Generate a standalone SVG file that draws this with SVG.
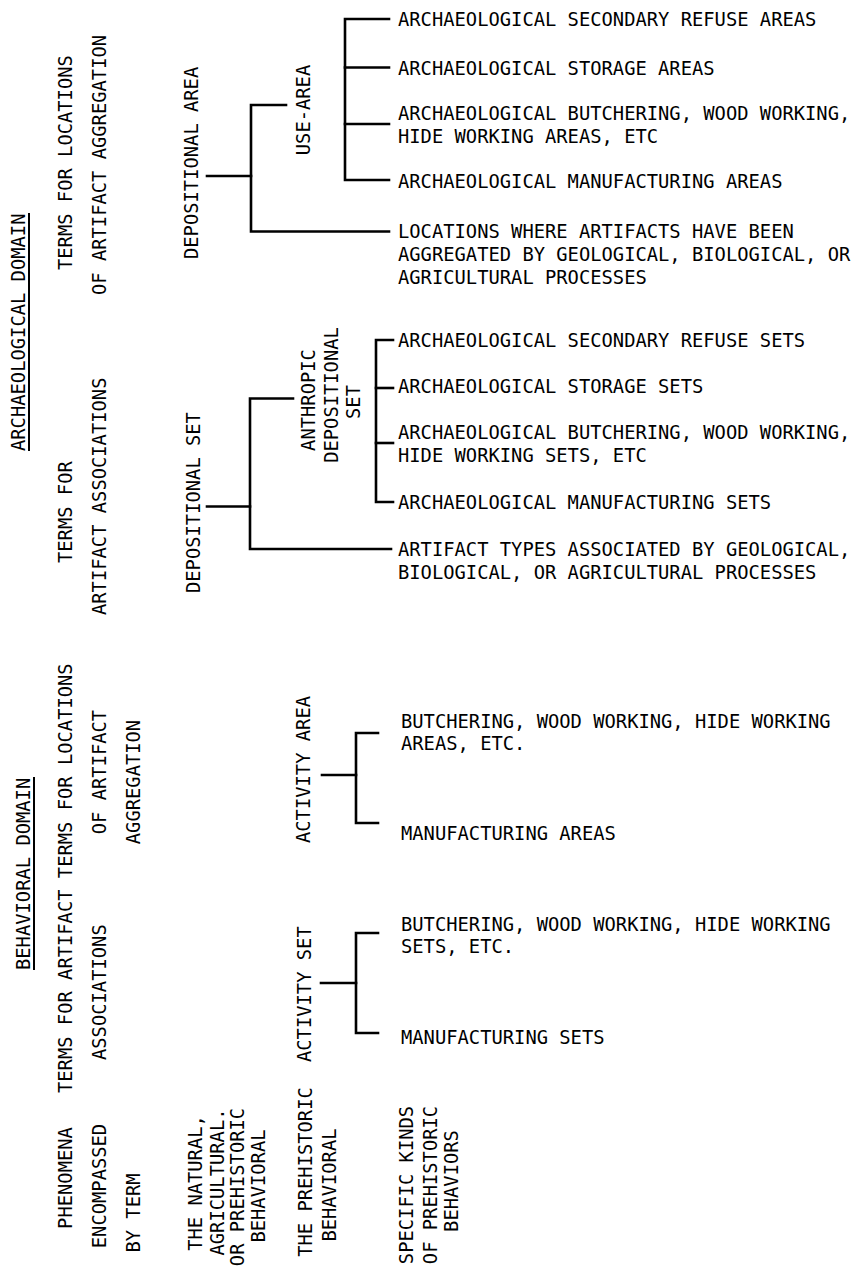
<svg xmlns="http://www.w3.org/2000/svg" width="855" height="1270" viewBox="0 0 855 1270">
<style>
text{font-family:"DejaVu Sans Mono","Liberation Mono",monospace;font-size:18.8px;fill:#000}
.m{text-anchor:middle}
.ln{stroke:#000;stroke-width:2.6;fill:none;stroke-linecap:square;stroke-linejoin:miter}
.ul{stroke:#000;stroke-width:2;fill:none}
</style>
<rect width="855" height="1270" fill="#fff"/>

<g id="connectors">
  <path class="ln" d="M207,176 H251"/>
  <path class="ln" d="M286,105 H251 V231.5 H389"/>
  <path class="ln" d="M389,19 H345 V180 H389"/>
  <path class="ln" d="M345,67.5 H389"/>
  <path class="ln" d="M345,124 H389"/>
  <path class="ln" d="M207,506.5 H250"/>
  <path class="ln" d="M293,398.5 H250 V549 H391"/>
  <path class="ln" d="M393,340 H376 V502 H393"/>
  <path class="ln" d="M376,388 H393"/>
  <path class="ln" d="M376,443 H393"/>
  <path class="ln" d="M322,775 H356"/>
  <path class="ln" d="M378,733 H356 V823 H378"/>
  <path class="ln" d="M321,983 H356"/>
  <path class="ln" d="M378,933 H356 V1033 H378"/>
</g>

<g id="arch-domain">
  <text transform="rotate(-90 25 451)" x="25" y="451">ARCHAEOLOGICAL DOMAIN</text>
  <line class="ul" x1="29" y1="213" x2="29" y2="451"/>
</g>
<g id="arch-terms-locations">
  <text transform="rotate(-90 72 270)" x="72" y="270">TERMS FOR LOCATIONS</text>
  <text transform="rotate(-90 106 295)" x="106" y="295">OF ARTIFACT AGGREGATION</text>
</g>
<g id="arch-terms-associations">
  <text transform="rotate(-90 72 563)" x="72" y="563">TERMS FOR</text>
  <text transform="rotate(-90 106 615)" x="106" y="615">ARTIFACT ASSOCIATIONS</text>
</g>

<g id="beh-domain">
  <text transform="rotate(-90 30 970)" x="30" y="970">BEHAVIORAL DOMAIN</text>
  <line class="ul" x1="34" y1="777" x2="34" y2="970"/>
</g>
<g id="beh-terms">
  <text transform="rotate(-90 72 1093)" x="72" y="1093">TERMS FOR ARTIFACT TERMS FOR LOCATIONS</text>
  <text transform="rotate(-90 106 1060)" x="106" y="1060">ASSOCIATIONS</text>
  <text class="m" transform="rotate(-90 106 772)" x="106" y="772">OF ARTIFACT</text>
  <text class="m" transform="rotate(-90 140 782)" x="140" y="782">AGGREGATION</text>
</g>

<g id="phenomena">
  <text class="m" transform="rotate(-90 72 1178)" x="72" y="1178">PHENOMENA</text>
  <text class="m" transform="rotate(-90 106 1186)" x="106" y="1186">ENCOMPASSED</text>
  <text class="m" transform="rotate(-90 140 1213)" x="140" y="1213">BY TERM</text>
</g>
<g id="natural-phenomena">
  <text class="m" transform="rotate(-90 202 1183)" x="202" y="1183">THE NATURAL,</text>
  <text class="m" transform="rotate(-90 224 1182)" x="224" y="1182">AGRICULTURAL.</text>
  <text class="m" transform="rotate(-90 244 1187)" x="244" y="1187">OR PREHISTORIC</text>
  <text class="m" transform="rotate(-90 265 1186)" x="265" y="1186">BEHAVIORAL</text>
</g>
<g id="prehistoric-phenomena">
  <text class="m" transform="rotate(-90 312 1172)" x="312" y="1172">THE PREHISTORIC</text>
  <text class="m" transform="rotate(-90 336 1185)" x="336" y="1185">BEHAVIORAL</text>
</g>
<g id="specific-phenomena">
  <text class="m" transform="rotate(-90 413 1185)" x="413" y="1185">SPECIFIC KINDS</text>
  <text class="m" transform="rotate(-90 437 1185)" x="437" y="1185">OF PREHISTORIC</text>
  <text class="m" transform="rotate(-90 458 1181)" x="458" y="1181">BEHAVIORS</text>
</g>

<g id="depositional-area">
  <text transform="rotate(-90 198 259)" x="198" y="259">DEPOSITIONAL AREA</text>
</g>
<g id="use-area">
  <text class="m" transform="rotate(-90 310 110)" x="310" y="110">USE-AREA</text>
</g>
<g id="area-refuse"><text x="398" y="26">ARCHAEOLOGICAL SECONDARY REFUSE AREAS</text></g>
<g id="area-storage"><text x="398" y="75">ARCHAEOLOGICAL STORAGE AREAS</text></g>
<g id="area-butchering">
  <text x="398" y="120">ARCHAEOLOGICAL BUTCHERING, WOOD WORKING,</text>
  <text x="398" y="142.5">HIDE WORKING AREAS, ETC</text>
</g>
<g id="area-manufacturing"><text x="398" y="188">ARCHAEOLOGICAL MANUFACTURING AREAS</text></g>
<g id="area-natural">
  <text x="398" y="238">LOCATIONS WHERE ARTIFACTS HAVE BEEN</text>
  <text x="398" y="261">AGGREGATED BY GEOLOGICAL, BIOLOGICAL, OR</text>
  <text x="398" y="284">AGRICULTURAL PROCESSES</text>
</g>

<g id="depositional-set">
  <text transform="rotate(-90 200 593)" x="200" y="593">DEPOSITIONAL SET</text>
</g>
<g id="anthropic-set">
  <text class="m" transform="rotate(-90 315 400)" x="315" y="400">ANTHROPIC</text>
  <text class="m" transform="rotate(-90 338 395)" x="338" y="395">DEPOSITIONAL</text>
  <text class="m" transform="rotate(-90 360 402)" x="360" y="402">SET</text>
</g>
<g id="set-refuse"><text x="398" y="347">ARCHAEOLOGICAL SECONDARY REFUSE SETS</text></g>
<g id="set-storage"><text x="398" y="393">ARCHAEOLOGICAL STORAGE SETS</text></g>
<g id="set-butchering">
  <text x="398" y="439">ARCHAEOLOGICAL BUTCHERING, WOOD WORKING,</text>
  <text x="398" y="462">HIDE WORKING SETS, ETC</text>
</g>
<g id="set-manufacturing"><text x="398" y="509">ARCHAEOLOGICAL MANUFACTURING SETS</text></g>
<g id="set-natural">
  <text x="398" y="556">ARTIFACT TYPES ASSOCIATED BY GEOLOGICAL,</text>
  <text x="398" y="579">BIOLOGICAL, OR AGRICULTURAL PROCESSES</text>
</g>

<g id="activity-area">
  <text transform="rotate(-90 310 843)" x="310" y="843">ACTIVITY AREA</text>
</g>
<g id="aa-butchering">
  <text x="401" y="728">BUTCHERING, WOOD WORKING, HIDE WORKING</text>
  <text x="401" y="750">AREAS, ETC.</text>
</g>
<g id="aa-manufacturing"><text x="401" y="840">MANUFACTURING AREAS</text></g>

<g id="activity-set">
  <text transform="rotate(-90 311 1062)" x="311" y="1062">ACTIVITY SET</text>
</g>
<g id="as-butchering">
  <text x="401" y="931">BUTCHERING, WOOD WORKING, HIDE WORKING</text>
  <text x="401" y="953">SETS, ETC.</text>
</g>
<g id="as-manufacturing"><text x="401" y="1044">MANUFACTURING SETS</text></g>
</svg>
